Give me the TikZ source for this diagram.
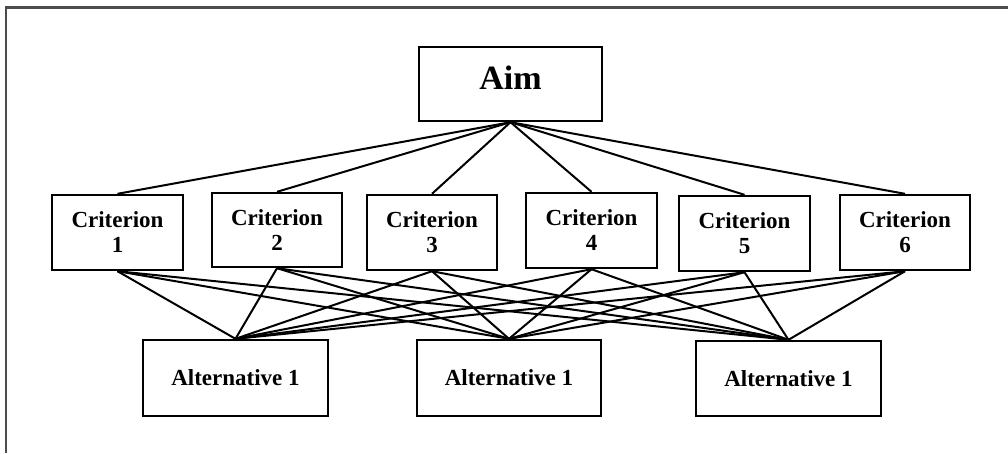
\documentclass[tikz,border=0pt]{standalone}
\usepackage{fontspec}
\setmainfont{Liberation Serif}
\begin{document}
\begin{tikzpicture}[x=1pt,y=-1pt,
  box/.style={draw=black,line width=2.4pt,inner sep=0pt,align=center,font=\bfseries\fontsize{23}{25}\selectfont},
  crit/.style={box,minimum width=131pt,minimum height=75pt},
  alt/.style={box,minimum width=185pt,minimum height=76pt},
  link/.style={draw=black,line width=2pt}]
\useasboundingbox (0,0) rectangle (1008,453);
\draw[line width=2.2pt,draw=black!70] (6,453) -- (6,7.5) -- (1008,7.5);
\node[box,minimum width=183pt,minimum height=74pt] (aim) at (510.5,84) {};
\node[font=\bfseries\fontsize{34}{38}\selectfont] (aimtxt) at (510.5,78) {Aim};
\node[crit] (c1) at (117.5,232.5) {Criterion\\1};
\node[crit,minimum width=130pt,minimum height=74pt] (c2) at (277,230) {Criterion\\2};
\node[crit,minimum width=130pt] (c3) at (432,232.5) {Criterion\\3};
\node[crit] (c4) at (591.5,230.5) {Criterion\\4};
\node[crit] (c5) at (744.5,233.5) {Criterion\\5};
\node[crit,minimum width=130pt] (c6) at (905,232.5) {Criterion\\6};
\node[alt] (a1) at (235.5,378) {Alternative 1};
\node[alt,minimum width=184pt] (a2) at (509,378) {Alternative 1};
\node[alt,minimum height=75pt] (a3) at (788.5,378.5) {Alternative 1};
\foreach \c in {c1,c2,c3,c4,c5,c6}{
  \path[link] (aim.south) -- (\c.north);
  \foreach \a in {a1,a2,a3}{
    \path[link] (\c.south) -- (\a.north);
  }
}
\end{tikzpicture}
\end{document}
